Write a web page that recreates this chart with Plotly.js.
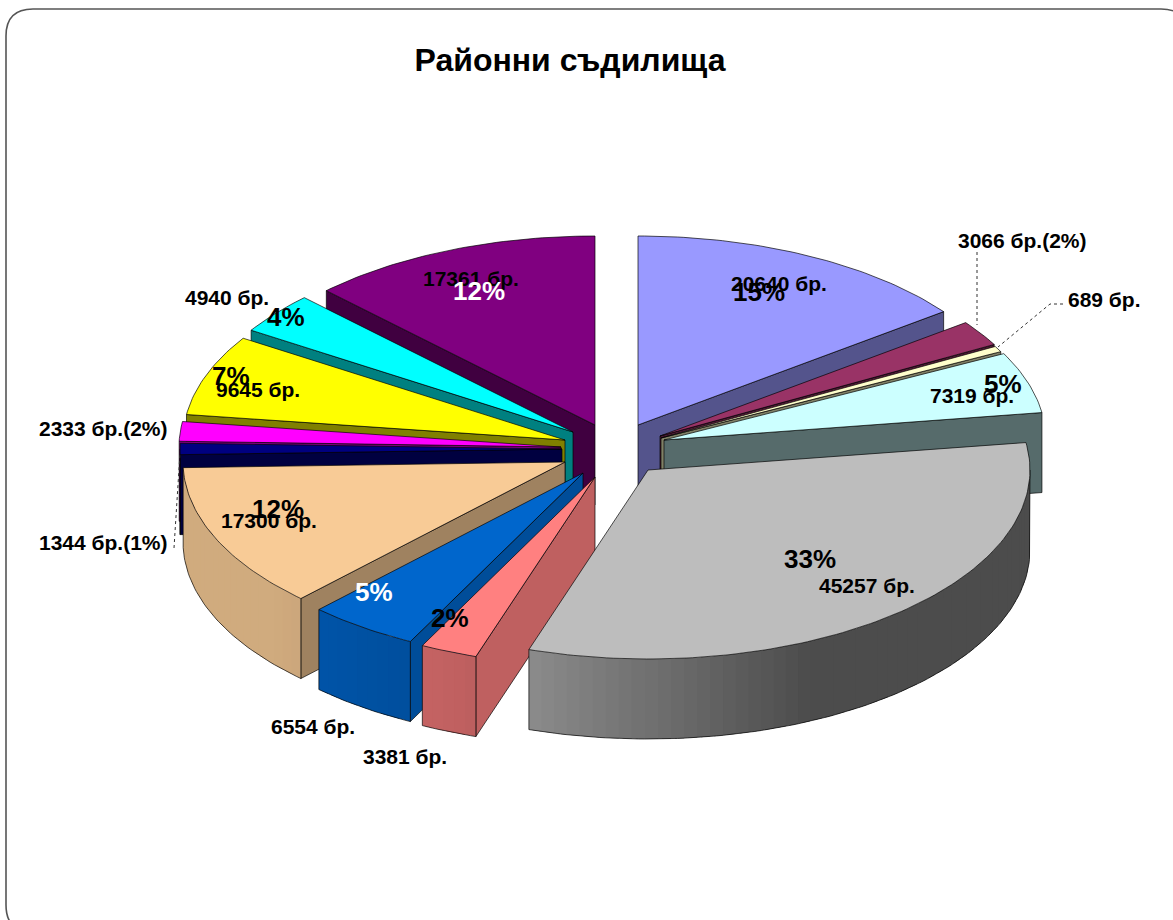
<!DOCTYPE html>
<html>
<head>
<meta charset="utf-8">
<script src="https://cdn.plot.ly/plotly-3.0.1.min.js"></script>
<style>html,body{margin:0;padding:0;background:#fff}#chart{width:1173px;height:920px}</style>
</head>
<body>
<div id="chart"></div>
<script>
// ---- data ----
const values = [20640, 3066, 689, 7319, 45257, 3381, 6554, 17300, 1344, 2333, 9645, 4940, 17361];
const countLabels = ["20640 бр.", "3066 бр.(2%)", "689 бр.", "7319 бр.", "45257 бр.", "3381 бр.", "6554 бр.", "17300 бр.", "1344 бр.(1%)", "2333 бр.(2%)", "9645 бр.", "4940 бр.", "17361 бр."];
const pctLabels = ["15%", "", "", "5%", "33%", "2%", "5%", "12%", "", "", "7%", "4%", "12%"];
const titleText = "Районни съдилища";

// ---- style ----
const topColors = ["#9999FF", "#993366", "#FFFFCC", "#CCFFFF", "#BDBDBD", "#FF8080", "#0066CC", "#F8CB96", "#000080", "#FF00FF", "#FFFF00", "#00FFFF", "#800080"];
const radialShade = [0.55, 0.5, 0.5, 0.42, 0.5, 0.75, 0.75, 0.64, 0.5, 0.5, 0.5, 0.5, 0.5];
const pctColors = ["#000", "#000", "#000", "#000", "#000", "#000", "#fff", "#000", "#000", "#000", "#000", "#000", "#fff"];

// ---- layout of the exploded tilted pie (axis units are pixels) ----
const RX = 382, RY = 189, DEPTH = 80;
const apexX = [638, 660, 661, 664, 648, 595, 583, 565, 562, 561, 565, 573, 595];
const apexY = [425, 436, 438, 440, 470, 477, 473, 462, 449, 447, 440, 432, 425];
const countX = [779, 1022, 1104, 972, 867, 405, 313, 269, 103, 103, 258, 227, 471];
const countY = [283, 240, 299, 395, 585, 756, 726, 520, 542, 428, 389, 297, 278];
const pctX = [759, 0, 0, 1003, 810, 450, 374, 278, 0, 0, 231, 286, 479];
const pctY = [292, 0, 0, 384, 559, 618, 592, 509, 0, 0, 376, 317, 291];
const drawOrder = [12, 11, 10, 9, 8, 0, 1, 2, 3, 7, 6, 5, 4];

const total = values.reduce((a, b) => a + b, 0);
const starts = [], ends = [];
values.reduce((acc, v, i) => { starts[i] = acc / total * 360; ends[i] = (acc + v) / total * 360; return acc + v; }, 0);

const rad = d => d * Math.PI / 180;
const ptX = (i, d) => apexX[i] + RX * Math.sin(rad(d));
const ptY = (i, d) => apexY[i] - RY * Math.cos(rad(d));
function shade(hex, f) {
  const n = parseInt(hex.slice(1), 16);
  return "rgb(" + [(n >> 16) & 255, (n >> 8) & 255, n & 255].map(c => Math.round(c * f)).join(",") + ")";
}
function arcShade(d) {
  if (d <= 155) return 0.40;
  if (d <= 200) return 0.40 + (d - 155) / 45 * 0.35;
  if (d <= 230) return 0.75 + (d - 200) / 30 * 0.09;
  return 0.84;
}
const OUT = "rgba(0,0,0,0.85)";
function poly(xs, ys, fill, lineColor, lineWidth) {
  return { type: "scatter", mode: "lines", x: xs, y: ys, fill: fill ? "toself" : "none", fillcolor: fill || undefined,
    line: { color: lineColor, width: lineWidth, shape: "linear" }, hoverinfo: "skip", showlegend: false };
}

const traces = [];
drawOrder.forEach(i => {
  const s = starts[i], e = ends[i], ax = apexX[i], ay = apexY[i], c = topColors[i];
  // radial walls that face the viewer
  [[s, Math.sin(rad(s)) < -0.001], [e, Math.sin(rad(e)) > 0.001]].forEach(([d, vis]) => {
    if (!vis) return;
    const ox = ptX(i, d), oy = ptY(i, d);
    traces.push(poly([ax, ox, ox, ax, ax], [ay, oy, oy + DEPTH, ay + DEPTH, ay], shade(c, radialShade[i]), OUT, 0.8));
  });
  // outer rim, in thin overlapping strips for the shading
  const a0 = Math.max(s, 90), a1 = Math.min(e, 270);
  if (a1 > a0) {
    const n = Math.max(1, Math.ceil((a1 - a0) / 2));
    const step = (a1 - a0) / n;
    for (let k = 0; k < n; k++) {
      const d0 = a0 + step * k, d1 = Math.min(a1, d0 + step * 1.7);
      const dm = d0 + step / 2;
      const col = shade(c, arcShade(dm));
      const sx = [], sy = [];
      [d0, (d0 + d1) / 2, d1].forEach(d => { sx.push(ptX(i, d)); sy.push(ptY(i, d)); });
      [d1, (d0 + d1) / 2, d0].forEach(d => { sx.push(ptX(i, d)); sy.push(ptY(i, d) + DEPTH); });
      sx.push(sx[0]); sy.push(sy[0]);
      traces.push(poly(sx, sy, col, "rgba(0,0,0,0)", 0));
    }
    const ox = [ptX(i, a0)], oy = [ptY(i, a0)];
    for (let k = 0; k <= n * 2; k++) { const d = a0 + (a1 - a0) * k / (n * 2); ox.push(ptX(i, d)); oy.push(ptY(i, d) + DEPTH); }
    ox.push(ptX(i, a1)); oy.push(ptY(i, a1));
    traces.push(poly(ox, oy, null, OUT, 0.8));
  }
  // top face
  const tx = [ax], ty = [ay];
  const m = Math.max(2, Math.ceil(e - s));
  for (let k = 0; k <= m; k++) { const d = s + (e - s) * k / m; tx.push(ptX(i, d)); ty.push(ptY(i, d)); }
  tx.push(ax); ty.push(ay);
  traces.push(poly(tx, ty, c, OUT, 0.8));
});

const FONT = "Liberation Sans, Arial, sans-serif";
const annotations = [];
values.forEach((v, i) => {
  annotations.push({ x: countX[i], y: countY[i], xref: "x", yref: "y", text: "<b>" + countLabels[i] + "</b>", showarrow: false,
    xanchor: "center", yanchor: "middle", font: { family: FONT, size: 21, color: "#000" } });
});
values.forEach((v, i) => {
  if (pctLabels[i]) annotations.push({ x: pctX[i], y: pctY[i], xref: "x", yref: "y", text: pctLabels[i], showarrow: false,
    xanchor: "center", yanchor: "middle", font: { family: FONT, size: 26, color: pctColors[i], weight: 700 } });
});

function leader(path, dash) {
  return { type: "path", path: path, xref: "x", yref: "y", line: { color: "#333", width: 1, dash: dash }, layer: "above" };
}
const shapes = [
  { type: "path", xref: "x", yref: "y", layer: "below", line: { color: "#555", width: 1.6 },
    path: "M6,36 Q6,9 33,9 L1161,9 Q1188,9 1188,36 L1188,905 Q1188,932 1161,932 L33,932 Q6,932 6,905 Z" },
  leader("M977,252 L977,325", "dot"),
  leader("M1063,304 L1050,304 L998,347", "dot"),
  leader("M174,548 L180,453", "dot")
];

const layout = {
  width: 1173, height: 920, autosize: false,
  margin: { l: 0, r: 0, t: 0, b: 0 },
  paper_bgcolor: "#fff", plot_bgcolor: "#fff",
  showlegend: false, hovermode: false,
  title: { text: "<b>" + titleText + "</b>", x: 570 / 1173, y: 1 - 60 / 920, xanchor: "center", yanchor: "middle", xref: "paper", yref: "paper",
    font: { family: FONT, size: 32, color: "#000" } },
  xaxis: { range: [0, 1173], visible: false, fixedrange: true },
  yaxis: { range: [920, 0], visible: false, fixedrange: true },
  annotations: annotations,
  shapes: shapes
};
Plotly.newPlot("chart", traces, layout, { displayModeBar: false, staticPlot: true });
</script>
</body>
</html>
